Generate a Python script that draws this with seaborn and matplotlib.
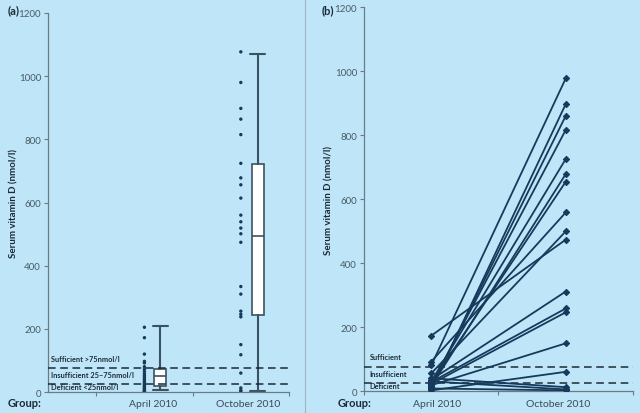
import matplotlib
matplotlib.use("Agg")
import matplotlib.pyplot as plt
import seaborn as sns
import numpy as np
import pandas as pd

# ---------------- data ----------------
april_vals = [205, 172, 120, 97, 92, 80, 72, 65, 58, 52, 47, 42, 38, 33, 29,
              25, 21, 18, 15, 12, 9, 6, 4, 2, 1]
october_vals = [1077, 980, 898, 864, 815, 724, 678, 656, 614, 560, 539, 519, 501,
                474, 334, 310, 256, 246, 238, 150, 118, 60, 13, 6, 2]
# box summary: whisker low, q1, median, q3, whisker high
april_box = [5, 18, 50, 73, 210]
october_box = [4, 244, 493, 722, 1070]

pair_april = [80, 5, 12, 20, 30, 15, 25, 92, 55, 173, 35, 28, 22, 18, 2, 40, 30, 8]
pair_october = [977, 897, 860, 816, 725, 678, 654, 558, 499, 473, 311, 258, 246,
                149, 60, 12, 5, 2]

group_labels = ["April 2010", "October 2010"]
thresholds = [75, 25]
labels_a = ["Sufficient >75nmol/l", "Insufficient 25\u201375nmol/l", "Deficient <25nmol/l"]
labels_b = ["Sufficient", "Insufficient", "Deficient"]
yticks = [0, 200, 400, 600, 800, 1000, 1200]

# ---------------- style ----------------
sns.set_style("white")
plt.rcParams["font.family"] = ["Lato", "DejaVu Sans"]
BG = "#bee6f8"
NAVY = "#173a5c"
GREY = "#6b7b86"
BOXC = "#3b5262"
DARK = "#1c2a36"

fig = plt.figure(figsize=(6.4, 4.14), dpi=100, facecolor=BG)
axa = fig.add_axes([0.075, 0.0507, 0.3766, 0.9155])
axb = fig.add_axes([0.56875, 0.0531, 0.4203, 0.9275])

for ax in (axa, axb):
    ax.set_facecolor(BG)
    ax.set_ylim(0, 1200)
    ax.set_yticks(yticks)
    ax.set_yticklabels([str(t) for t in yticks], fontsize=7, color="#4a5a66")
    for s in ("top", "right"):
        ax.spines[s].set_visible(False)
    for s in ("left", "bottom"):
        ax.spines[s].set_color(GREY)
        ax.spines[s].set_linewidth(0.9)
    ax.tick_params(axis="y", length=3, width=0.8, color=GREY, pad=2, left=True)
    ax.tick_params(axis="x", length=3, width=0.8, color=GREY, bottom=True, direction="out")
    for t in thresholds:
        ax.axhline(t, color=DARK, lw=1.1, ls=(0, (5, 3)), zorder=3)

# ---------------- panel (a) ----------------
axa.set_xlim(0, 5)
axa.set_xticks([1, 3, 5])
axa.set_xticklabels([])
dfa = pd.DataFrame({
    "x": [2] * len(april_vals) + [4] * len(october_vals),
    "v": april_vals + october_vals,
})
sns.scatterplot(data=dfa, x="x", y="v", ax=axa, color=NAVY, s=6,
                edgecolor="none", zorder=4, legend=False)
stats = []
for b in (april_box, october_box):
    stats.append(dict(whislo=b[0], q1=b[1], med=b[2], q3=b[3], whishi=b[4], fliers=[]))
axa.bxp(stats, positions=[2.33, 4.35], widths=0.25, patch_artist=True,
        showfliers=False, manage_ticks=False,
        boxprops=dict(facecolor="white", edgecolor=BOXC, linewidth=1.2),
        medianprops=dict(color=BOXC, linewidth=1.2),
        whiskerprops=dict(color=BOXC, linewidth=1.5),
        capprops=dict(color=BOXC, linewidth=1.5),
        capwidths=0.3)
axa.set_xlabel("")
axa.set_ylabel("Serum vitamin D (nmol/l)", fontsize=7, fontweight="bold", color=DARK)
axa.yaxis.set_label_coords(-0.124, 0.5)
for y, lab in zip([96, 43, 6], labels_a):
    axa.text(0.06, y, lab, fontsize=5.3, fontweight="bold", color=DARK,
             ha="left", va="bottom", zorder=5)
for xp, lab in zip([2.18, 4.15], group_labels):
    axa.text(xp, -36, lab, fontsize=7.5, color="#3a4a56", ha="center", va="center",
             clip_on=False)

# ---------------- panel (b) ----------------
axb.set_xlim(0, 4)
axb.set_xticks([0, 2, 4])
axb.set_xticklabels([])
rows = []
for i, (a, o) in enumerate(zip(pair_april, pair_october)):
    rows.append((i, 1, a))
    rows.append((i, 3, o))
dfb = pd.DataFrame(rows, columns=["subject", "x", "v"])
sns.lineplot(data=dfb, x="x", y="v", units="subject", estimator=None, ax=axb,
             color=NAVY, lw=1.3, marker="D", markersize=3.2, markeredgecolor=NAVY,
             zorder=4, legend=False)
axb.set_xlabel("")
axb.set_ylabel("Serum vitamin D (nmol/l)", fontsize=7, fontweight="bold", color=DARK)
axb.yaxis.set_label_coords(-0.115, 0.5)
for y, lab in zip([96, 43, 6], labels_b):
    axb.text(0.08, y, lab, fontsize=5.3, fontweight="bold", color=DARK,
             ha="left", va="bottom", zorder=5)
for xp, lab in zip([1.08, 2.88], group_labels):
    axb.text(xp, -38, lab, fontsize=7.5, color="#3a4a56", ha="center", va="center",
             clip_on=False)

# ---------------- figure texts ----------------
fig.text(8 / 640, 1 - 11 / 414, "(a)", fontsize=8, fontweight="bold", color=DARK,
         ha="left", va="center")
fig.text(322 / 640, 1 - 11 / 414, "(b)", fontsize=8, fontweight="bold", color=DARK,
         ha="left", va="center")
fig.text(25 / 640, 1 - 404 / 414, "Group:", fontsize=8, fontweight="bold",
         color=DARK, ha="center", va="center")
fig.text(355 / 640, 1 - 404 / 414, "Group:", fontsize=8, fontweight="bold",
         color=DARK, ha="center", va="center")
fig.add_artist(plt.Line2D([305 / 640, 305 / 640], [0, 1], transform=fig.transFigure,
                          color="#9fb4c0", lw=0.8))

fig.savefig("out.png", dpi=100, facecolor=BG)
